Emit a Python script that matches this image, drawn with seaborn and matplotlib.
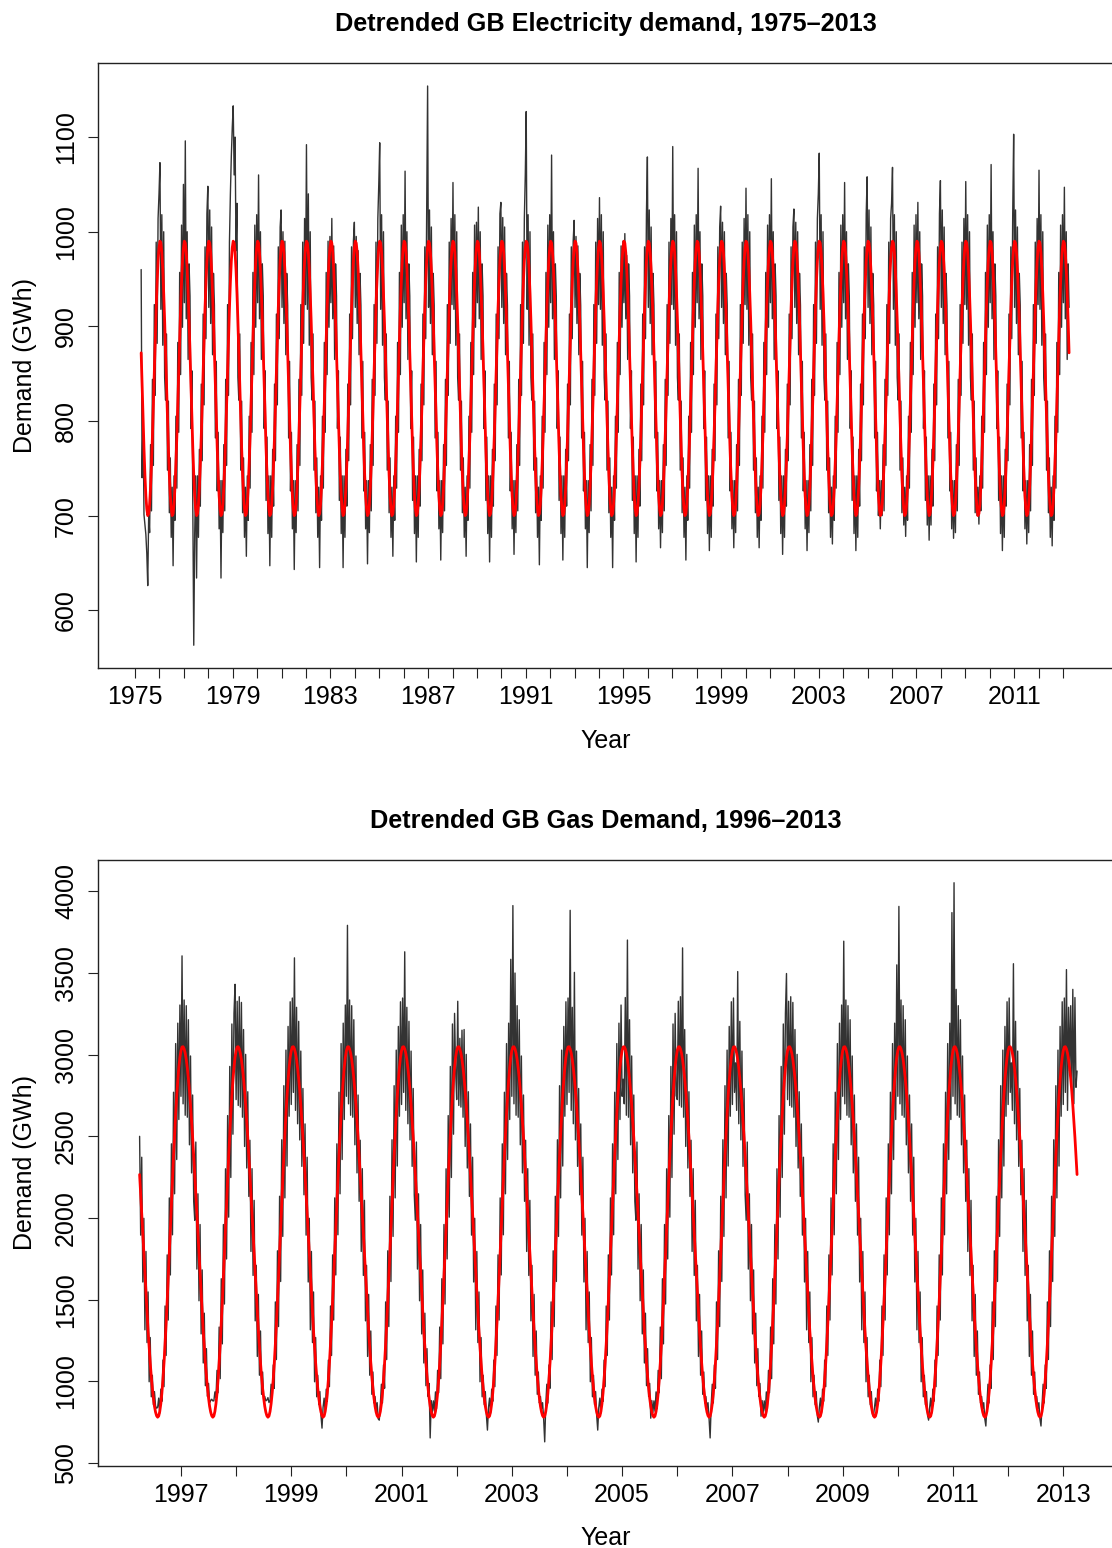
import numpy as np
import matplotlib
matplotlib.use("Agg")
import matplotlib.pyplot as plt
import seaborn as sns
from matplotlib.ticker import FixedLocator, FixedFormatter

sns.set_style("ticks")
plt.rcParams['font.family'] = ['Liberation Sans', 'DejaVu Sans']
for key in ["text.color", "axes.labelcolor", "xtick.color", "ytick.color"]:
    plt.rcParams[key] = "black"

# ---------------- data ----------------
elec_samples_per_year = 26     # one value every two weeks
gas_samples_per_year = 52      # one value every week
elec_start = 1975.25
gas_start = 1996.25

# Electricity demand (GWh), one row per season-year (April -> March)
elec_demand = [
    960, 740, 805, 701, 690, 680, 660, 626, 700, 682, 775, 705, 844, 753, 923, 827, 989, 882, 1014, 1040, 1073, 918, 1018, 880, 1000, 846,   # 1975
    822, 892, 748, 821, 703, 761, 677, 730, 647, 742, 695, 805, 729, 883, 788, 957, 849, 1007, 899, 1050, 925, 1096, 908, 1000, 865, 966,   # 1976
    932, 792, 853, 716, 563, 681, 742, 634, 742, 677, 770, 710, 839, 758, 913, 817, 984, 887, 1019, 1048, 920, 1023, 903, 1005, 870, 956,   # 1977
    922, 782, 863, 726, 788, 686, 737, 634, 737, 682, 775, 705, 844, 753, 923, 827, 989, 1040, 1080, 1110, 1133, 1060, 1100, 980, 1030, 846,  # 1978
    822, 892, 748, 821, 703, 761, 677, 730, 657, 742, 695, 805, 729, 883, 788, 957, 849, 1007, 899, 1018, 925, 1060, 908, 1000, 865, 966,   # 1979
    932, 792, 853, 716, 783, 681, 742, 647, 742, 677, 770, 710, 839, 758, 913, 817, 984, 887, 1005, 1023, 920, 1000, 903, 990, 870, 956,    # 1980
    922, 782, 863, 726, 788, 686, 737, 643, 737, 682, 775, 705, 844, 753, 923, 827, 989, 882, 1014, 923, 1092, 918, 1040, 880, 1000, 846,   # 1981
    822, 892, 748, 821, 703, 761, 677, 730, 645, 742, 695, 805, 729, 883, 788, 957, 849, 990, 899, 995, 925, 1014, 908, 985, 865, 966,      # 1982
    932, 792, 853, 716, 783, 681, 742, 645, 742, 677, 770, 710, 839, 758, 913, 817, 984, 887, 990, 1010, 920, 995, 903, 980, 870, 956,      # 1983
    922, 782, 863, 726, 788, 686, 737, 649, 737, 682, 775, 705, 844, 753, 923, 827, 989, 882, 1014, 1050, 1094, 918, 1018, 880, 1000, 846,  # 1984
    822, 892, 748, 821, 703, 761, 677, 730, 657, 742, 695, 805, 729, 883, 788, 957, 849, 1007, 899, 1018, 925, 1064, 908, 1000, 865, 966,   # 1985
    932, 792, 853, 716, 783, 681, 742, 651, 742, 677, 770, 710, 839, 758, 913, 817, 984, 887, 1019, 1154, 920, 1023, 903, 1005, 870, 956,   # 1986
    922, 782, 863, 726, 788, 686, 737, 653, 737, 682, 775, 705, 844, 753, 923, 827, 989, 882, 1014, 923, 1052, 918, 1018, 880, 1000, 846,   # 1987
    822, 892, 748, 821, 703, 761, 677, 730, 657, 742, 695, 805, 729, 883, 788, 957, 849, 1007, 899, 1010, 925, 1026, 908, 1000, 865, 966,   # 1988
    932, 792, 853, 716, 783, 681, 742, 651, 742, 677, 770, 710, 839, 758, 913, 817, 984, 887, 1019, 1031, 920, 1015, 903, 1005, 870, 956,   # 1989
    922, 782, 863, 726, 788, 686, 737, 659, 737, 682, 775, 705, 844, 753, 923, 827, 989, 882, 1014, 1060, 1127, 918, 1018, 880, 1000, 846,  # 1990
    822, 892, 748, 821, 703, 761, 677, 730, 648, 742, 695, 805, 729, 883, 788, 957, 849, 1007, 899, 1018, 925, 1081, 908, 1000, 865, 966,   # 1991
    932, 792, 853, 716, 783, 681, 742, 653, 742, 677, 770, 710, 839, 758, 913, 817, 984, 887, 990, 1012, 920, 995, 903, 985, 870, 956,      # 1992
    922, 782, 863, 726, 788, 686, 737, 645, 737, 682, 775, 705, 844, 753, 923, 827, 989, 882, 1014, 923, 1036, 918, 1018, 880, 1000, 846,   # 1993
    822, 892, 748, 821, 703, 761, 677, 730, 645, 742, 695, 805, 729, 883, 788, 957, 849, 985, 899, 990, 925, 998, 908, 975, 865, 966,       # 1994
    932, 792, 853, 716, 783, 681, 742, 651, 742, 677, 770, 710, 839, 758, 913, 817, 984, 887, 1019, 1079, 920, 1023, 903, 1005, 870, 956,   # 1995
    922, 782, 863, 726, 788, 686, 737, 666, 737, 682, 775, 705, 844, 753, 923, 827, 989, 882, 1014, 923, 1090, 918, 1018, 880, 1000, 846,   # 1996
    822, 892, 748, 821, 703, 761, 677, 730, 653, 742, 695, 805, 729, 883, 788, 957, 849, 1007, 899, 1018, 925, 1067, 908, 1000, 865, 966,   # 1997
    932, 792, 853, 716, 783, 681, 742, 663, 742, 677, 770, 710, 839, 758, 913, 817, 984, 887, 1005, 1027, 920, 1010, 903, 1000, 870, 956,   # 1998
    922, 782, 863, 726, 788, 686, 737, 666, 737, 682, 775, 705, 844, 753, 923, 827, 989, 882, 1014, 923, 1046, 918, 1018, 880, 1000, 846,   # 1999
    822, 892, 748, 821, 703, 761, 677, 730, 666, 742, 695, 805, 729, 883, 788, 957, 849, 1007, 899, 1018, 925, 1056, 908, 1000, 865, 966,   # 2000
    932, 792, 853, 716, 783, 681, 742, 659, 742, 677, 770, 710, 839, 758, 913, 817, 984, 887, 1005, 1024, 920, 1010, 903, 1000, 870, 956,   # 2001
    922, 782, 863, 726, 788, 686, 737, 663, 737, 682, 775, 705, 844, 753, 923, 827, 989, 882, 1014, 1040, 1083, 918, 1018, 880, 1000, 846,  # 2002
    822, 892, 748, 821, 703, 761, 677, 730, 670, 742, 695, 805, 729, 883, 788, 957, 849, 1007, 899, 1018, 925, 1052, 908, 1000, 865, 966,   # 2003
    932, 792, 853, 716, 783, 681, 742, 663, 742, 677, 770, 710, 839, 758, 913, 817, 984, 887, 1019, 1058, 920, 1023, 903, 1005, 870, 956,   # 2004
    922, 782, 863, 726, 788, 700, 737, 686, 737, 700, 775, 705, 844, 753, 923, 827, 989, 882, 1014, 1030, 1068, 918, 1018, 880, 1000, 846,  # 2005
    822, 892, 748, 821, 703, 761, 690, 730, 678, 742, 695, 805, 729, 883, 788, 957, 849, 1007, 899, 1018, 925, 1031, 908, 1000, 865, 966,   # 2006
    932, 792, 853, 716, 783, 690, 742, 674, 742, 690, 770, 710, 839, 758, 913, 817, 984, 887, 1019, 1054, 920, 1023, 903, 1005, 870, 956,   # 2007
    922, 782, 863, 726, 788, 686, 737, 676, 737, 682, 775, 705, 844, 753, 923, 827, 989, 882, 1014, 923, 1053, 918, 1018, 880, 1000, 846,   # 2008
    822, 892, 748, 821, 703, 761, 700, 730, 691, 742, 705, 805, 729, 883, 788, 957, 849, 1007, 899, 1018, 925, 1071, 908, 1000, 865, 966,   # 2009
    932, 792, 853, 716, 783, 681, 742, 663, 742, 677, 770, 710, 839, 758, 913, 817, 984, 887, 1019, 1103, 920, 1023, 903, 1005, 870, 956,   # 2010
    922, 782, 863, 726, 788, 686, 737, 670, 737, 682, 775, 705, 844, 753, 923, 827, 989, 882, 1014, 923, 1065, 918, 1018, 880, 1000, 846,   # 2011
    822, 892, 748, 821, 703, 761, 677, 730, 668, 742, 695, 805, 729, 883, 788, 957, 849, 1007, 899, 1018, 925, 1047, 908, 1000, 865, 966,   # 2012
    920,
]

# fitted seasonal curve, one year (April -> March), biweekly
elec_fit_profile = [872, 837, 803, 771, 743, 721, 707, 700, 702, 712, 730, 755, 784,
                    818, 853, 887, 919, 947, 969, 983, 990, 988, 978, 960, 935, 906]

# Gas demand (GWh), weekly, two lines per season-year (April -> March)
gas_demand = [
    # 1996
    2500, 1895, 2372, 1608, 1998, 1315, 1795, 1237, 1547, 997, 1268, 905, 1037, 857, 937, 850, 835, 840, 897, 805, 952, 877, 1130, 967, 1461, 1158,
    1774, 1375, 2123, 1651, 2454, 1897, 2770, 2148, 3068, 2358, 3193, 2603, 3304, 2745, 3605, 2699, 3335, 2629, 3300, 2617, 3214, 2448, 2992, 2276, 2753, 2102,
    # 1997
    1986, 2465, 1687, 2148, 1493, 1960, 1290, 1682, 1112, 1417, 973, 1200, 907, 987, 870, 882, 890, 880, 880, 935, 900, 1067, 930, 1332, 1016, 1628,
    1229, 1960, 1473, 2301, 1749, 2627, 2005, 2928, 2248, 3188, 2513, 3253, 3431, 2725, 3327, 2689, 3355, 2679, 3320, 2617, 3154, 2438, 3002, 2306, 2773, 2132,
    # 1998
    2476, 1795, 2302, 1648, 2108, 1370, 1710, 1152, 1532, 1037, 1308, 920, 1057, 890, 907, 880, 885, 900, 870, 880, 982, 895, 1100, 957, 1486, 1133,
    1799, 1335, 2133, 1611, 2479, 1887, 2810, 2123, 3028, 2318, 3173, 2623, 3324, 2695, 3347, 2769, 3593, 2659, 3290, 2577, 3204, 2478, 3022, 2316, 2793, 2142,
    # 1999
    2576, 1895, 2372, 1608, 1998, 1315, 1795, 1237, 1547, 997, 1268, 905, 1037, 857, 937, 792, 713, 840, 897, 805, 952, 877, 1130, 967, 1461, 1158,
    1774, 1375, 2123, 1651, 2454, 1897, 2770, 2148, 3068, 2358, 3193, 2603, 3304, 2745, 3792, 2699, 3335, 2629, 3300, 2617, 3214, 2448, 2992, 2276, 2753, 2102,
    # 2000
    2476, 1795, 2302, 1648, 2108, 1370, 1710, 1152, 1532, 1037, 1308, 920, 1057, 867, 907, 832, 869, 770, 762, 855, 982, 867, 1100, 957, 1486, 1133,
    1799, 1335, 2133, 1611, 2479, 1887, 2810, 2123, 3028, 2318, 3173, 2623, 3324, 2695, 3347, 2769, 3630, 2659, 3290, 2577, 3204, 2478, 3022, 2316, 2793, 2142,
    # 2001
    1986, 2465, 1687, 2148, 1493, 1960, 1290, 1682, 1112, 1417, 973, 1200, 907, 987, 653, 882, 809, 880, 817, 935, 832, 1067, 930, 1332, 1016, 1628,
    1229, 1960, 1473, 2301, 1749, 2627, 2005, 2928, 2248, 3188, 2513, 3253, 2900, 2725, 3327, 2689, 3100, 2679, 3150, 2617, 3154, 2438, 3002, 2306, 2773, 2132,
    # 2002
    2576, 1895, 2372, 1608, 1998, 1315, 1795, 1237, 1547, 997, 1268, 905, 1037, 857, 937, 792, 701, 840, 897, 805, 952, 877, 1130, 967, 1461, 1158,
    1774, 1375, 2123, 1651, 2454, 1897, 2770, 2148, 3068, 2358, 3193, 2603, 3584, 2745, 3913, 2699, 3500, 2629, 3300, 2617, 3214, 2448, 2992, 2276, 2753, 2102,
    # 2003
    2476, 1795, 2302, 1648, 2108, 1370, 1710, 1152, 1532, 1037, 1308, 920, 1057, 867, 907, 832, 869, 770, 629, 855, 982, 867, 1100, 957, 1486, 1133,
    1799, 1335, 2133, 1611, 2479, 1887, 2810, 2123, 3028, 2318, 3173, 2623, 3324, 2695, 3347, 2769, 3884, 2659, 3290, 2577, 3504, 2478, 3022, 2316, 2793, 2142,
    # 2004
    2576, 1895, 2372, 1608, 1998, 1315, 1795, 1237, 1547, 997, 1268, 905, 1037, 857, 937, 792, 701, 840, 897, 805, 952, 877, 1130, 967, 1461, 1158,
    1774, 1375, 2123, 1651, 2454, 1897, 2770, 2148, 3068, 2358, 3193, 2603, 3304, 2745, 2850, 2699, 3350, 2629, 3702, 2617, 3214, 2448, 2992, 2276, 2753, 2102,
    # 2005
    1986, 2465, 1687, 2148, 1493, 1960, 1290, 1682, 1112, 1417, 973, 1200, 907, 987, 774, 882, 809, 880, 817, 935, 832, 1067, 930, 1332, 1016, 1628,
    1229, 1960, 1473, 2301, 1749, 2627, 2005, 2928, 2248, 3188, 2513, 3253, 2750, 2725, 3327, 2689, 3355, 2679, 3654, 2617, 3154, 2438, 3002, 2306, 2773, 2132,
    # 2006
    2476, 1795, 2302, 1648, 2108, 1370, 1710, 1152, 1532, 1037, 1308, 920, 1057, 867, 907, 832, 869, 770, 653, 855, 982, 867, 1100, 957, 1486, 1133,
    1799, 1335, 2133, 1611, 2479, 1887, 2810, 2123, 3028, 2318, 3173, 2623, 3324, 2695, 3347, 2769, 2950, 2659, 3509, 2577, 3204, 2478, 3022, 2316, 2793, 2142,
    # 2007
    1986, 2465, 1687, 2148, 1493, 1960, 1290, 1682, 1112, 1417, 973, 1200, 907, 987, 786, 882, 809, 880, 817, 935, 832, 1067, 930, 1332, 1016, 1628,
    1229, 1960, 1473, 2301, 1749, 2627, 2005, 2928, 2248, 3188, 2513, 3253, 3497, 2725, 3327, 2689, 3355, 2679, 3320, 2617, 3154, 2438, 3002, 2306, 2773, 2132,
    # 2008
    2576, 1895, 2372, 1608, 1998, 1315, 1795, 1237, 1547, 997, 1268, 905, 1037, 857, 937, 792, 750, 840, 897, 805, 952, 877, 1130, 967, 1461, 1158,
    1774, 1375, 2123, 1651, 2454, 1897, 2770, 2148, 3068, 2358, 3193, 2603, 3304, 2745, 3695, 2699, 3335, 2629, 3300, 2617, 3214, 2448, 2992, 2276, 2753, 2102,
    # 2009
    2576, 1895, 2372, 1608, 1998, 1315, 1795, 1237, 1547, 997, 1268, 905, 1037, 857, 937, 800, 786, 840, 897, 805, 952, 877, 1130, 967, 1461, 1158,
    1774, 1375, 2123, 1651, 2454, 1897, 2770, 2148, 3068, 2358, 3193, 2603, 3550, 2745, 3908, 2699, 3335, 2629, 3300, 2617, 3214, 2448, 2992, 2276, 2753, 2102,
    # 2010
    2576, 1895, 2372, 1608, 1998, 1315, 1795, 1237, 1547, 997, 1268, 905, 1037, 857, 937, 792, 762, 840, 897, 805, 952, 877, 1130, 967, 1461, 1158,
    1774, 1375, 2123, 1651, 2454, 1897, 2770, 2148, 3068, 2358, 3193, 2603, 3870, 2745, 4053, 2699, 3400, 2629, 3300, 2617, 3214, 2448, 2992, 2276, 2753, 2102,
    # 2011
    2476, 1795, 2302, 1648, 2108, 1370, 1710, 1152, 1532, 1037, 1308, 920, 1057, 867, 907, 832, 869, 770, 726, 855, 982, 867, 1100, 957, 1486, 1133,
    1799, 1335, 2133, 1611, 2479, 1887, 2810, 2123, 3028, 2318, 3173, 2623, 3324, 2695, 3347, 2769, 2950, 2659, 3557, 2577, 3204, 2478, 3022, 2316, 2793, 2142,
    # 2012
    2476, 1795, 2302, 1648, 2108, 1370, 1710, 1152, 1532, 1037, 1308, 920, 1057, 867, 907, 832, 869, 770, 726, 855, 982, 867, 1100, 957, 1486, 1133,
    1799, 1335, 2133, 1611, 2479, 1887, 2810, 2123, 3028, 2318, 3173, 2623, 3324, 2695, 3347, 2769, 3521, 2659, 3290, 2900, 3300, 2750, 3400, 2700, 3350, 2800,
    2900,
]

# fitted seasonal curve, one year (April -> March), weekly
gas_fit_profile = [2266, 2145, 2022, 1898, 1773, 1650, 1530, 1417, 1307, 1207, 1113, 1030, 957,
                   897, 847, 812, 789, 780, 787, 815, 862, 927, 1010, 1112, 1226, 1353,
                   1489, 1635, 1783, 1936, 2089, 2237, 2380, 2513, 2638, 2748, 2843, 2923, 2984,
                   3025, 3047, 3049, 3035, 3009, 2970, 2917, 2854, 2778, 2692, 2596, 2493, 2382]

elec_tick_years = list(range(1975, 2014))
elec_label_years = list(range(1975, 2014, 4))
gas_tick_years = list(range(1997, 2014))
gas_label_years = list(range(1997, 2014, 2))
elec_yticks = [600, 700, 800, 900, 1000, 1100]
gas_yticks = [500, 1000, 1500, 2000, 2500, 3000, 3500, 4000]

titles = ["Detrended GB Electricity demand, 1975\u20132013",
          "Detrended GB Gas Demand, 1996\u20132013"]

# ---------------- figure ----------------
W, H = 1112, 1548
fig = plt.figure(figsize=(W / 100, H / 100), dpi=100)

def px_axes(left, top, right, bottom):
    return fig.add_axes([left / W, 1 - bottom / H, (right - left) / W, (bottom - top) / H])

ax1 = px_axes(97.7, 63.0, 1114.0, 668.5)
ax2 = px_axes(97.7, 859.7, 1114.0, 1465.7)

black = "#333333"

def draw(ax, start, per_year, demand, profile, xlim, ylim, tick_years, label_years, yticks, title):
    demand = np.asarray(demand, dtype=float)
    t = start + np.arange(len(demand)) / per_year
    fit = np.resize(np.asarray(profile, dtype=float), len(demand))
    sns.lineplot(x=t, y=demand, ax=ax, color=black, linewidth=1.0,
                 estimator=None, sort=False)
    sns.lineplot(x=t, y=fit, ax=ax, color="red", linewidth=2.0,
                 estimator=None, sort=False)
    ax.set_xlim(*xlim)
    ax.set_ylim(*ylim)
    ax.xaxis.set_major_locator(FixedLocator(tick_years))
    ax.xaxis.set_major_formatter(FixedFormatter(
        [str(y) if y in label_years else "" for y in tick_years]))
    ax.set_yticks(yticks)
    ax.set_yticklabels([str(v) for v in yticks])
    ax.tick_params(axis="x", length=7.2, width=0.8, pad=5, labelsize=18,
                   colors="#222222", labelcolor="black")
    ax.tick_params(axis="y", length=7.2, width=0.8, pad=7, labelsize=18, labelrotation=90,
                   colors="#222222", labelcolor="black")
    for lab in ax.get_yticklabels():
        lab.set_va("center")
    for s in ax.spines.values():
        s.set_visible(True)
        s.set_linewidth(1.0)
        s.set_color("#222222")
    ax.set_title(title, fontsize=18.2, fontweight="bold", pad=23, color="black")
    ax.set_xlabel("Year", fontsize=18, color="black")
    ax.set_ylabel("Demand (GWh)", fontsize=18, color="black")
    ax.xaxis.set_label_coords(0.5, -0.131)
    ax.xaxis.label.set_va("baseline")
    ax.yaxis.set_label_coords(-0.060, 0.5)

draw(ax1, elec_start, elec_samples_per_year, elec_demand, elec_fit_profile,
     (1973.47, 2015.09), (538.4, 1178.3),
     elec_tick_years, elec_label_years, elec_yticks, titles[0])
draw(ax2, gas_start, gas_samples_per_year, gas_demand, gas_fit_profile,
     (1995.49, 2013.92), (483, 4194),
     gas_tick_years, gas_label_years, gas_yticks, titles[1])

fig.savefig("out.png", dpi=100)
